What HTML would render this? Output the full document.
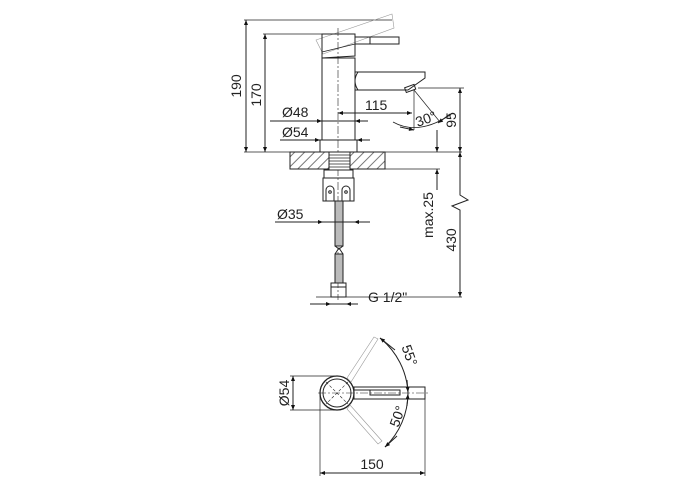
<!DOCTYPE html>
<html><head><style>body{margin:0;background:#fff}svg{display:block}text{font-family:"Liberation Sans",sans-serif;fill:#222}</style></head><body>
<svg width="700" height="500" viewBox="0 0 700 500" xmlns="http://www.w3.org/2000/svg">
<defs>
<pattern id="h" width="7" height="7" patternUnits="userSpaceOnUse" patternTransform="rotate(45)"><line x1="1" y1="0" x2="1" y2="7" stroke="#555" stroke-width="0.8"/></pattern>
<marker id="a" viewBox="0 0 10 10" refX="10" refY="5" markerWidth="9" markerHeight="5" orient="auto-start-reverse" markerUnits="userSpaceOnUse"><path d="M0,1 L10,5 L0,9z" fill="#111"/></marker>
</defs>
<g stroke="#222" stroke-width="1" fill="none">
<line x1="244" y1="20" x2="392" y2="20" stroke-width="0.7"/>
<line x1="263" y1="34" x2="322" y2="34" stroke-width="0.7"/>
<line x1="244" y1="152" x2="462" y2="152" stroke-width="0.8"/>
<line x1="246" y1="20" x2="246" y2="152" marker-start="url(#a)" marker-end="url(#a)"/>
<line x1="265" y1="34" x2="265" y2="152" marker-start="url(#a)" marker-end="url(#a)"/>
<polygon points="316,40 392,14 394,28 323,54" stroke="#999" stroke-width="0.6"/>
<path d="M322,34 H355 V56 L322,58 Z" />
<path d="M322,52 L355,44" stroke-width="0.7"/>
<rect x="355" y="37" width="44" height="7"/>
<line x1="370" y1="37" x2="370" y2="44"/>
<rect x="322" y="58" width="33" height="82"/>
<rect x="320" y="140" width="37" height="12"/>
<line x1="338" y1="28" x2="338" y2="300" stroke-dasharray="8,2,2,2" stroke-width="0.6"/>
<path d="M355,72 H425 V78 L408,90 H355"/>
<path d="M358,72 Q352,81 358,90"/>
<rect x="405" y="86" width="10" height="5" transform="rotate(-20 410 88)"/>
<line x1="338" y1="113" x2="412" y2="113" marker-start="url(#a)" marker-end="url(#a)"/>
<line x1="270" y1="121" x2="322" y2="121" marker-end="url(#a)"/>
<line x1="322" y1="121" x2="355" y2="121"/>
<line x1="355" y1="121" x2="368" y2="121" marker-start="url(#a)"/>
<line x1="280" y1="140" x2="320" y2="140" marker-end="url(#a)"/>
<line x1="320" y1="140" x2="357" y2="140"/>
<line x1="357" y1="140" x2="370" y2="140" marker-start="url(#a)"/>
<line x1="414" y1="90" x2="414" y2="130" stroke-width="0.7"/>
<line x1="414" y1="90" x2="440" y2="122" stroke-width="0.7"/>
<path d="M393,122 Q418,136 450,115" stroke-width="0.8"/>
<line x1="400" y1="127" x2="414" y2="130" marker-end="url(#a)"/>
<line x1="450" y1="114" x2="438" y2="123" marker-end="url(#a)"/>
<line x1="418" y1="88" x2="464" y2="88" stroke-width="0.7"/>
<line x1="460" y1="88" x2="460" y2="152" marker-start="url(#a)" marker-end="url(#a)"/>
<rect x="290" y="152" width="95" height="17" fill="url(#h)"/>
<rect x="329" y="152" width="21" height="18" fill="#fff"/>
<g stroke-width="0.7"><line x1="329" y1="155" x2="350" y2="155"/><line x1="329" y1="158" x2="350" y2="158"/><line x1="329" y1="161" x2="350" y2="161"/><line x1="329" y1="164" x2="350" y2="164"/><line x1="329" y1="167" x2="350" y2="167"/></g>
<line x1="385" y1="169" x2="440" y2="169" stroke-width="0.7"/>
<rect x="324" y="170" width="29" height="8"/>
<rect x="323" y="178" width="31" height="23"/>
<path d="M326,201 V190 a4,4 0 0 1 8,0 V201 M342,201 V190 a4,4 0 0 1 8,0 V201"/>
<circle cx="330" cy="192" r="1.3"/><circle cx="346" cy="192" r="1.3"/>
<rect x="335" y="201" width="8" height="45" fill="#bbb"/>
<path d="M335,246 L339,249 L343,246 M335,254 L339,248 L343,254"/>
<rect x="335" y="254" width="8" height="29" fill="#bbb"/>
<rect x="331" y="283" width="15" height="14"/>
<line x1="331" y1="287" x2="346" y2="287"/>
<line x1="316" y1="297" x2="346" y2="297" stroke-width="0.7"/>
<line x1="310" y1="304" x2="331" y2="304" marker-end="url(#a)"/>
<line x1="331" y1="304" x2="346" y2="304"/>
<line x1="346" y1="304" x2="358" y2="304" marker-start="url(#a)"/>
<line x1="346" y1="297" x2="462" y2="297" stroke-width="0.7"/>
<line x1="275" y1="222" x2="323" y2="222" marker-end="url(#a)"/>
<line x1="323" y1="222" x2="354" y2="222"/>
<line x1="354" y1="222" x2="370" y2="222" marker-start="url(#a)"/>
<line x1="437" y1="130" x2="437" y2="152" marker-end="url(#a)"/>
<line x1="437" y1="169" x2="437" y2="190" marker-start="url(#a)"/>
<path d="M460,152 V195 L468,200 L452,206 L460,210 V297" />
<line x1="460" y1="160" x2="460" y2="152" marker-end="url(#a)"/>
<line x1="460" y1="285" x2="460" y2="297" marker-end="url(#a)"/>
<circle cx="337" cy="393" r="17" stroke-width="1.3"/>
<circle cx="337" cy="393" r="14"/>
<line x1="318" y1="393" x2="430" y2="393" stroke-dasharray="8,2,2,2" stroke-width="0.6"/>
<line x1="326" y1="382" x2="348" y2="404" stroke-dasharray="3,2" stroke-width="0.6"/>
<line x1="348" y1="382" x2="326" y2="404" stroke-dasharray="3,2" stroke-width="0.6"/>
<rect x="354" y="387" width="71" height="12"/>
<rect x="370" y="390" width="30" height="5"/>
<line x1="354" y1="390" x2="370" y2="390"/>
<polygon points="347,378 374,337 378,339 351,382" stroke="#999" stroke-width="0.6"/>
<polygon points="350,405 382,441 378,444 347,409" stroke="#999" stroke-width="0.6"/>
<path d="M380,338 A75,75 0 0 1 408,393 A75,75 0 0 1 385,447"/>
<line x1="395" y1="350" x2="380" y2="338" marker-end="url(#a)"/>
<line x1="407" y1="380" x2="408" y2="392" marker-end="url(#a)"/>
<line x1="407" y1="406" x2="408" y2="394" marker-end="url(#a)"/>
<line x1="397" y1="436" x2="385" y2="447" marker-end="url(#a)"/>
<line x1="290" y1="376" x2="337" y2="376" stroke-width="0.7"/>
<line x1="290" y1="410" x2="337" y2="410" stroke-width="0.7"/>
<line x1="293" y1="376" x2="293" y2="410" marker-start="url(#a)" marker-end="url(#a)"/>
<line x1="320" y1="393" x2="320" y2="476" stroke-width="0.7"/>
<line x1="425" y1="399" x2="425" y2="476" stroke-width="0.7"/>
<line x1="320" y1="473" x2="425" y2="473" marker-start="url(#a)" marker-end="url(#a)"/>
</g>
<g font-size="14">
<text transform="translate(241,86) rotate(-90)" text-anchor="middle">190</text>
<text transform="translate(261,95) rotate(-90)" text-anchor="middle">170</text>
<text x="365" y="110">115</text>
<text x="282" y="117">Ø48</text>
<text x="282" y="137">Ø54</text>
<text x="415" y="124" transform="rotate(-20 425 118)">30°</text>
<text transform="translate(456,120) rotate(-90)" text-anchor="middle">95</text>
<text x="277" y="219">Ø35</text>
<text transform="translate(433,215) rotate(-90)" text-anchor="middle">max.25</text>
<text transform="translate(456,240) rotate(-90)" text-anchor="middle">430</text>
<text x="368" y="302">G 1/2"</text>
<text transform="translate(289,393) rotate(-90)" text-anchor="middle">Ø54</text>
<text transform="translate(405,357) rotate(70)" text-anchor="middle">55°</text>
<text transform="translate(402,418) rotate(-70)" text-anchor="middle">50°</text>
<text x="372" y="469" text-anchor="middle">150</text>
</g>
</svg>
</body></html>
